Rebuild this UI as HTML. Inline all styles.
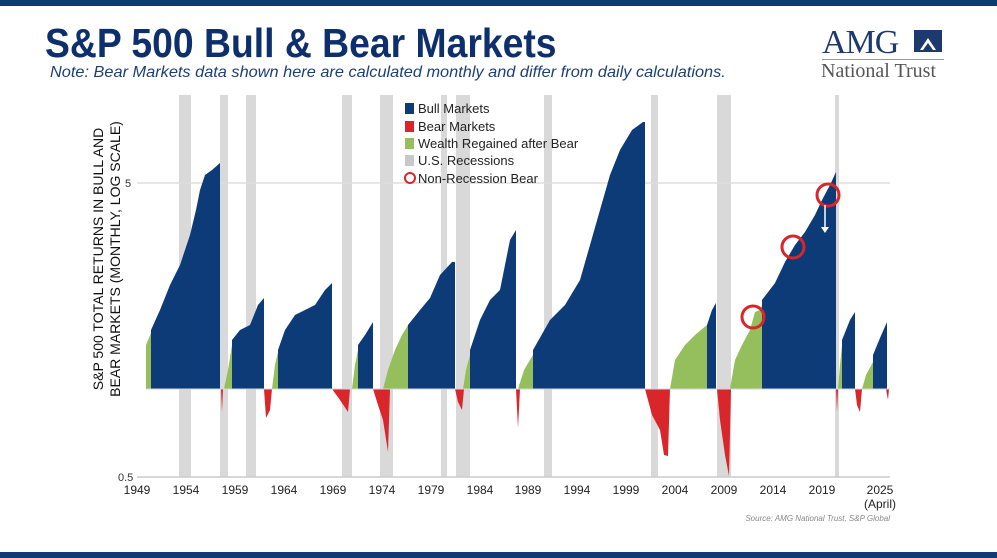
<!DOCTYPE html>
<html><head><meta charset="utf-8"><style>
body{margin:0;width:997px;height:558px;background:#fff;overflow:hidden;font-family:"Liberation Sans",sans-serif;position:relative}
.bar{position:absolute;left:0;width:997px;height:6px;background:#0f3a73}
</style></head><body>
<div class="bar" style="top:0"></div>
<div class="bar" style="top:552px"></div>
<div style="position:absolute;left:45px;top:20px;font-size:41px;font-weight:bold;color:#0d2f6c;transform:scaleX(0.91);transform-origin:left;white-space:nowrap">S&amp;P 500 Bull &amp; Bear Markets</div>
<div style="position:absolute;left:50px;top:64px;font-size:16px;font-style:italic;color:#1d3f78;transform:scaleX(1.02);transform-origin:left;white-space:nowrap">Note: Bear Markets data shown here are calculated monthly and differ from daily calculations.</div>
<div style="position:absolute;left:822px;top:24px;font-family:'Liberation Serif',serif;font-size:34px;color:#1c3a6e;letter-spacing:-1px">AMG</div>
<div style="position:absolute;left:914px;top:30px;width:28px;height:22px;background:#1c3a6e"></div>
<svg style="position:absolute;left:914px;top:30px" width="28" height="22"><polygon points="6,20 14,8 22,20" fill="#fff"/><polygon points="9,20 14,13 19,20" fill="#1c3a6e"/></svg>
<div style="position:absolute;left:822px;top:59px;width:122px;height:1px;background:#999"></div>
<div style="position:absolute;left:821px;top:60px;font-family:'Liberation Serif',serif;font-size:20px;color:#555">National Trust</div>
<svg style="position:absolute;left:0;top:0" width="997" height="558" font-family="Liberation Sans, sans-serif">
<g fill="#d9d9d9">
<rect x="179" y="95" width="12" height="382"/><rect x="220" y="95" width="8" height="382"/><rect x="246" y="95" width="10" height="382"/>
<rect x="342" y="95" width="10" height="382"/><rect x="380" y="95" width="13" height="382"/><rect x="441" y="95" width="6" height="382"/>
<rect x="456" y="95" width="14" height="382"/><rect x="544" y="95" width="8" height="382"/><rect x="651" y="95" width="7" height="382"/>
<rect x="717" y="95" width="14" height="382"/><rect x="835" y="95" width="4" height="382"/>
</g>
<line x1="137" y1="183" x2="890" y2="183" stroke="#ddd" stroke-width="1.5"/>
<line x1="137" y1="477" x2="890" y2="477" stroke="#ccc" stroke-width="1.5"/>
<g fill="#94bf5c">
<polygon points="146,389 146,345 151,333 151,389"/>
<polygon points="224,389 228,370 232,345 232,389"/>
<polygon points="272,389 275,365 278,352 278,389"/>
<polygon points="352,389 355,365 358,350 358,389"/>
<polygon points="383,389 388,370 395,350 402,335 408,325 408,389"/>
<polygon points="463,389 466,370 470,355 470,389"/>
<polygon points="518,389 524,370 533,355 533,389"/>
<polygon points="670,389 675,360 685,345 695,335 707,325 707,389"/>
<polygon points="730,389 735,360 742,345 750,330 755,312 760,310 762,305 762,389"/>
<polygon points="838,389 840,365 842,345 842,389"/>
<polygon points="862,389 866,375 873,362 873,389"/>
</g>
<g fill="#0d3b78">
<polygon points="151,389 151,330 160,310 170,285 180,265 190,235 196,210 200,190 205,175 212,170 220,163 220,389"/>
<polygon points="232,389 232,340 240,330 250,325 258,305 264,298 264,389"/>
<polygon points="278,389 278,350 285,330 295,315 305,310 315,305 325,290 332,283 332,389"/>
<polygon points="358,389 358,345 365,335 373,322 373,389"/>
<polygon points="408,389 408,325 420,310 430,298 440,275 452,262 455,262 455,389"/>
<polygon points="470,389 470,350 480,320 490,300 500,290 510,240 516,230 516,389"/>
<polygon points="533,389 533,350 550,320 565,305 580,280 590,245 600,210 610,175 620,150 632,130 643,122 645,122 645,389"/>
<polygon points="707,389 707,325 712,310 716,303 716,389"/>
<polygon points="762,389 762,300 775,283 785,262 795,245 805,232 815,215 822,200 830,185 836,172 836,389"/>
<polygon points="842,389 842,340 850,320 855,312 855,389"/>
<polygon points="873,389 873,355 880,338 887,322 887,389"/>
</g>
<g fill="#d9262b">
<polygon points="221,389 223,389 222,412"/>
<polygon points="264,389 272,389 270,410 266,418"/>
<polygon points="332,389 350,389 348,412 340,400"/>
<polygon points="373,389 390,389 388,452 383,420 378,405"/>
<polygon points="455,389 464,389 462,410 458,402"/>
<polygon points="516,389 520,389 518,428"/>
<polygon points="645,389 670,389 668,456 664,455 660,430 652,415"/>
<polygon points="717,389 731,389 729,476 725,455 720,420"/>
<polygon points="836,389 838,389 837,412"/>
<polygon points="855,389 862,389 860,412 857,405"/>
<polygon points="886,389 889,389 888,400"/>
</g>
<line x1="146" y1="389" x2="890" y2="389" stroke="#cfd6e0" stroke-width="1"/>
<g fill="none" stroke="#d9262b" stroke-width="3"><circle cx="753" cy="317" r="11"/><circle cx="793" cy="247" r="11"/><circle cx="828" cy="195" r="11"/></g>
<line x1="825" y1="205" x2="825" y2="228" stroke="#fff" stroke-width="1.5"/><polygon points="821,227 829,227 825,233" fill="#fff"/>
<g font-size="13" fill="#222">
<rect x="405" y="103" width="9" height="11" fill="#0d3b78"/><text x="418" y="113">Bull Markets</text>
<rect x="405" y="121" width="9" height="11" fill="#d9262b"/><text x="418" y="131">Bear Markets</text>
<rect x="405" y="138" width="9" height="11" fill="#94bf5c"/><text x="418" y="148">Wealth Regained after Bear</text>
<rect x="405" y="155" width="9" height="11" fill="#c8c8c8"/><text x="418" y="165">U.S. Recessions</text>
<circle cx="410" cy="178" r="5" fill="none" stroke="#d9262b" stroke-width="2"/><text x="418" y="183">Non-Recession Bear</text>
</g>
<g font-size="11" fill="#333"><text x="125" y="187">5</text><text x="118" y="481">0.5</text></g>
<g font-size="12" fill="#222" text-anchor="middle">
<text x="137" y="494">1949</text><text x="186" y="494">1954</text><text x="235" y="494">1959</text><text x="284" y="494">1964</text>
<text x="333" y="494">1969</text><text x="382" y="494">1974</text><text x="431" y="494">1979</text><text x="480" y="494">1984</text>
<text x="528" y="494">1989</text><text x="577" y="494">1994</text><text x="626" y="494">1999</text><text x="675" y="494">2004</text>
<text x="724" y="494">2009</text><text x="773" y="494">2014</text><text x="822" y="494">2019</text><text x="880" y="494">2025</text>
<text x="880" y="508">(April)</text>
</g>
<text x="890" y="521" font-size="8" font-style="italic" fill="#888" text-anchor="end">Source: AMG National Trust, S&amp;P Global</text>
<g transform="translate(103,259) rotate(-90)" font-size="14" fill="#111" text-anchor="middle">
<text x="0" y="0">S&amp;P 500 TOTAL RETURNS IN BULL AND</text>
<text x="0" y="17">BEAR MARKETS (MONTHLY, LOG SCALE)</text>
</g>
</svg>
</body></html>
